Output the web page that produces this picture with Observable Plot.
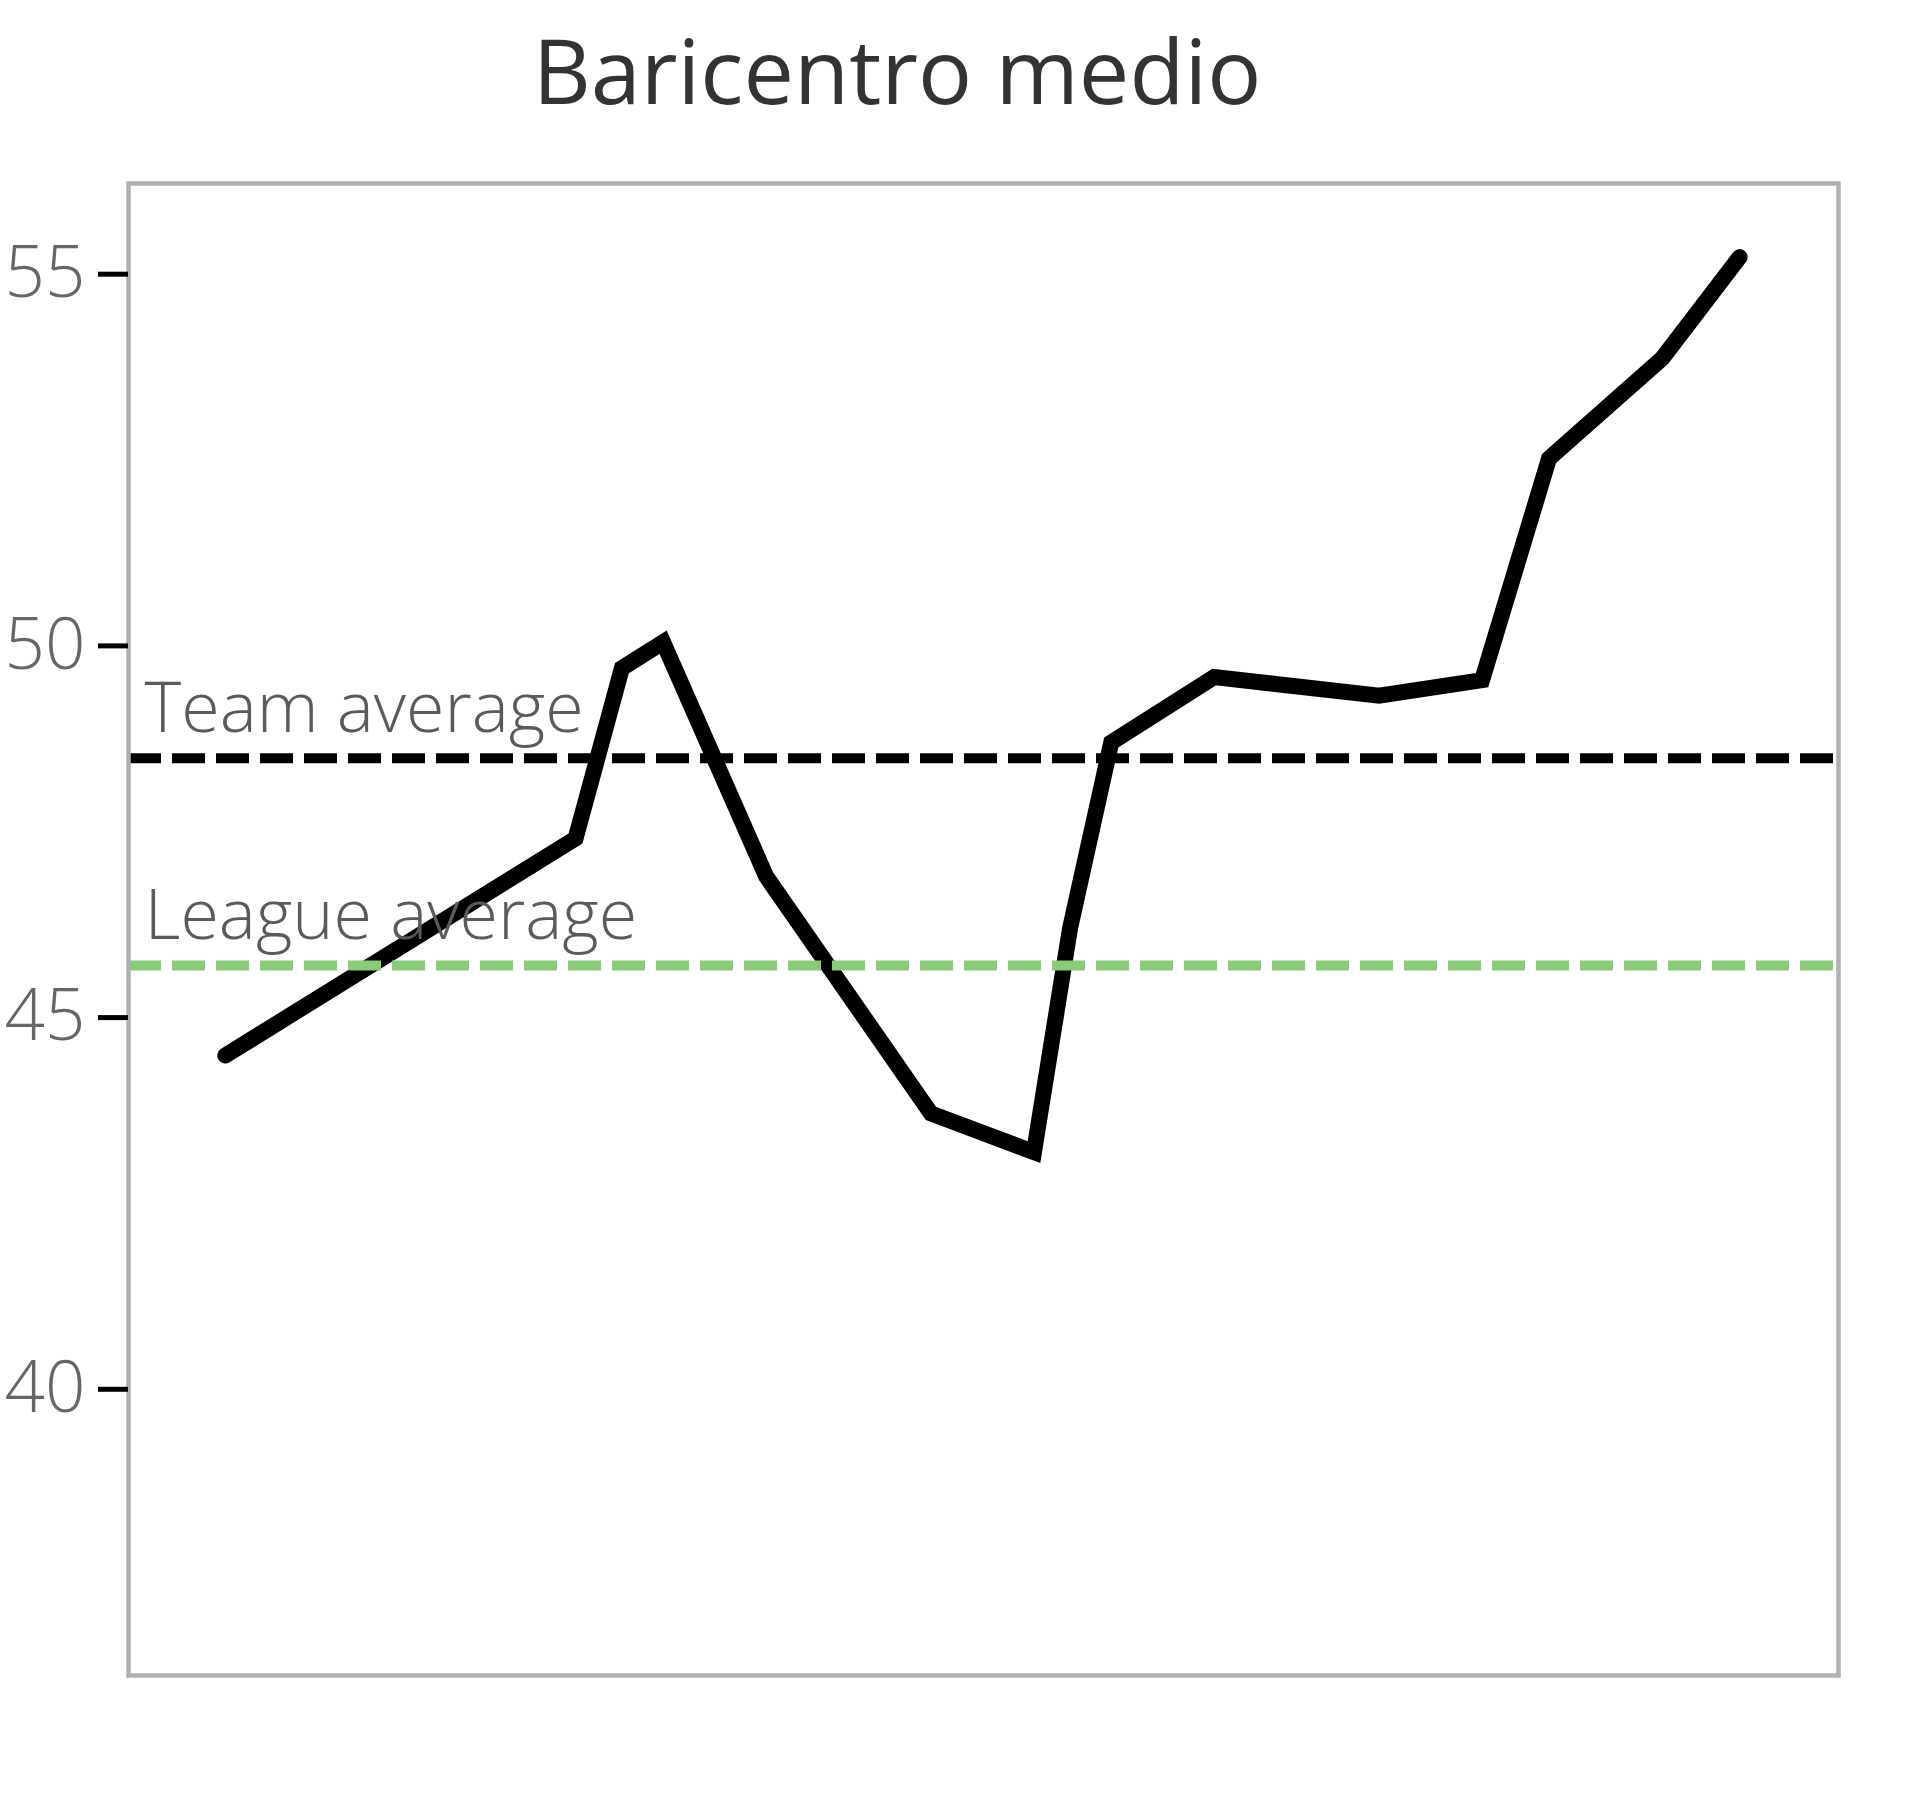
<!DOCTYPE html>
<html>
<head>
<meta charset="utf-8">
<script src="https://cdn.jsdelivr.net/npm/d3@7"></script>
<script src="https://cdn.jsdelivr.net/npm/@observablehq/plot@0.6"></script>
<style>
  html, body { margin: 0; padding: 0; background: #fff; overflow: hidden; }
  #title {
    width: 1794px; height: 140px; box-sizing: border-box;
    padding-top: 24px; text-align: center;
    font-family: "Open Sans", sans-serif; font-size: 90px; line-height: 90px;
    color: #333;
  }
</style>
</head>
<body>
<div id="title">Baricentro medio</div>
<div id="chart"></div>
<script>
// Day of season of each match (read from x positions)
const matchDay = [0, 68, 77, 85, 105, 137, 157, 164, 172, 192, 224, 244, 257, 279, 294];
// Average barycentre per match
const baricentro = [44.49, 47.41, 49.70, 50.05, 46.90, 43.71, 43.19, 46.20, 48.70, 49.58, 49.33, 49.54, 52.52, 53.87, 55.23];
// Reference lines
const avgLabels = ["Team average", "League average"];
const avgValues = [48.49, 45.70];
const avgColors = ["#000000", "#88cc77"];
// Axis
const yTicks = [40, 45, 50, 55];

const series = matchDay.map((d, i) => ({day: d, value: baricentro[i]}));
const averages = avgLabels.map((l, i) => ({label: l, value: avgValues[i], color: avgColors[i]}));

const chart = Plot.plot({
  width: 1920,
  height: 1668,
  marginLeft: 128,
  marginRight: 82,
  marginTop: 43,
  marginBottom: 133,
  style: {fontFamily: "Open Sans", fontSize: "66px", background: "#fff"},
  x: {domain: [-18.8, 313.2], axis: null},
  y: {domain: [36.15, 56.22], axis: null},
  marks: [
    Plot.line(series, {x: "day", y: "value", stroke: "#000", strokeWidth: 16,
      strokeLinecap: "round", strokeLinejoin: "miter", strokeMiterlimit: 4}),
    Plot.ruleY(averages, {y: "value", stroke: "color", strokeWidth: 10, strokeDasharray: "33,11"}),
    Plot.text(averages, {y: "value", text: "label", frameAnchor: "left", textAnchor: "start",
      dx: 16, dy: -49, fill: "#5a5a5a", fontSize: 70, fontWeight: 300}),
    Plot.frame({stroke: "#b0b0b0", strokeWidth: 4.5}),
    Plot.axisY({ticks: yTicks, tickSize: 30, tickPadding: 13, stroke: "#000", strokeWidth: 5,
      fill: "#666", fontSize: 71, fontWeight: 300, label: null})
  ]
});
document.getElementById("chart").appendChild(chart);
</script>
</body>
</html>
